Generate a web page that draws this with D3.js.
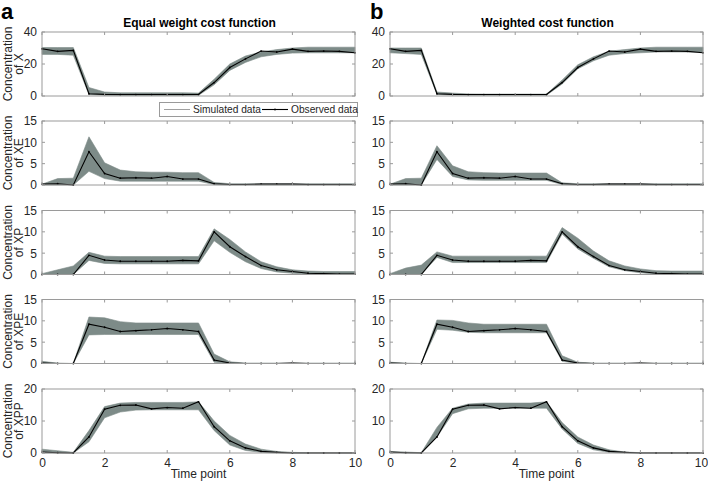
<!DOCTYPE html>
<html><head><meta charset="utf-8">
<script src="https://cdn.jsdelivr.net/npm/d3@7"></script>
<style>body{margin:0;background:#fff}svg{display:block;font-family:"Liberation Sans",Arial,sans-serif}</style>
</head><body>
<svg id="c" width="708" height="483"></svg>
<script>
const time = [0,0.5,1,1.5,2,2.5,3,3.5,4,4.5,5,5.5,6,6.5,7,7.5,8,8.5,9,9.5,10];
const species = ["X","XE","XP","XPE","XPP"];
const yMax = [40,15,15,15,20];
const yTicks = [[0,20,40],[0,5,10,15],[0,5,10,15],[0,5,10,15],[0,10,20]];
const xTicks = [0,2,4,6,8,10];
const panelTitles = ["Equal weight cost function","Weighted cost function"];
const panelLetters = ["a","b"];

const obsX   = [29.5,27.9,28.5,1.4,1.0,0.9,0.9,0.9,0.9,0.9,0.9,8.4,17.8,23.2,28.1,27.5,29.3,27.9,28.1,27.9,27.0];
const obsXE  = [0.2,0.3,0,7.8,2.7,1.6,1.7,1.6,2.0,1.4,1.4,0.3,0.1,0.1,0.2,0.2,0.2,0.1,0.1,0.1,0.1];
const obsXP  = [0,0,0,4.5,3.4,3.1,3.1,3.1,3.1,3.3,3.2,10.0,6.5,4.2,2.1,1.1,0.7,0.3,0.2,0.1,0.1];
const obsXPE = [0.1,0,0,9.2,8.5,7.5,7.7,7.9,8.2,7.9,7.5,0.8,0.1,0,0,0,0.1,0,0,0,0];
const obsXPP = [0.3,0.1,0,5.0,13.7,14.9,15.0,13.8,14.2,14.0,16.0,8.2,3.8,1.6,0.5,0.2,0,0,0,0,0];

const eqLoX   = [26,26,25.5,0.9,0.5,0.3,0.3,0.3,0.3,0.3,0.4,7,16,21,24.5,26,26.8,27,27,27,27];
const eqHiX   = [30.3,30.3,30.3,5.3,2.5,2,2,2,2,2,1.8,10.5,20,25,27.5,29,30,30.5,30.5,30.5,30.5];
const eqLoXE  = [0,0,0,3.2,1.5,0.9,0.9,0.9,0.9,0.9,0.9,0.1,0,0,0,0,0,0,0,0,0];
const eqHiXE  = [0.2,1.5,1.6,11.3,5.2,3.5,3.1,3,3,2.9,2.9,0.6,0.3,0.3,0.3,0.3,0.3,0.3,0.3,0.3,0.3];
const eqLoXP  = [0,0,0,3.3,2.6,2.5,2.5,2.5,2.5,2.5,2.5,7.9,5.2,3,1.4,0.6,0.3,0.1,0,0,0];
const eqHiXP  = [0.2,1.1,2,5.2,4.3,4.2,4.2,4.2,4.2,4.2,4.2,10.7,8.2,5.3,3,1.8,1.1,0.8,0.7,0.7,0.7];
const eqLoXPE = [0,0,0,6.7,6.8,6.8,6.8,6.8,6.8,6.8,6.8,0.3,0,0,0,0,0,0,0,0,0];
const eqHiXPE = [0.5,0.1,0,10.9,10.7,9.8,9.5,9.5,9.5,9.5,9.5,2.2,0.4,0.1,0.1,0.1,0.1,0.1,0.1,0.1,0.1];
const eqLoXPP = [0,0,0,3.5,11,12.8,13.4,13.5,13.5,13.5,13.5,7,2.5,0.8,0.2,0,0,0,0,0,0];
const eqHiXPP = [1.2,0.7,0.2,7,14.5,15.6,15.8,15.8,15.8,15.8,16,10,5.5,2.8,1.2,0.5,0.2,0.1,0.1,0.1,0.1];

const wLoX   = [27,26.5,26,1,0.6,0.5,0.5,0.5,0.5,0.5,0.5,7.5,17,22,25.5,26.5,27,27.5,27.5,27.5,27.5];
const wHiX   = [30,30,30,2.5,1.8,1.3,1.2,1.2,1.2,1.2,1.2,10,19.5,24.5,28,29,30,30.5,30.5,30.5,30.5];
const wLoXE  = [0,0,0,6,2,1.2,1.1,1.1,1.1,1.1,1.1,0.1,0,0,0,0,0,0,0,0,0];
const wHiXE  = [0.2,1.5,1.6,9.2,4.5,3.1,2.9,2.8,2.8,2.8,2.8,0.5,0.3,0.3,0.3,0.3,0.3,0.3,0.3,0.3,0.3];
const wLoXP  = [0,0,0,4,2.8,2.8,2.8,2.8,2.8,2.8,2.8,9.5,6,3.8,1.8,0.9,0.4,0.1,0,0,0];
const wHiXP  = [0.2,1.5,2.2,5.3,4.3,4.3,4.3,4.3,4.3,4.3,4.3,11,8.5,5.5,3.2,2,1.3,0.9,0.8,0.8,0.8];
const wLoXPE = [0,0,0,8,7.8,7.3,7.2,7.2,7.2,7.2,7.2,0.5,0,0,0,0,0,0,0,0,0];
const wHiXPE = [0.3,0.1,0,10.2,10.1,9.5,9.2,9.2,9.2,9.2,9.2,1.8,0.3,0.1,0.1,0.1,0.1,0.1,0.1,0.1,0.1];
const wLoXPP = [0,0,0,5,12.3,13.8,14,14,14,14,14,7.5,3,1,0.2,0,0,0,0,0,0];
const wHiXPP = [0.5,0.3,0.1,8,14,15.3,15.6,15.6,15.6,15.6,16,9.5,5,2.5,1,0.3,0.1,0.1,0.1,0.1,0.1];

const observed = [obsX,obsXE,obsXP,obsXPE,obsXPP];
const bands = [
  {lo:[eqLoX,eqLoXE,eqLoXP,eqLoXPE,eqLoXPP], hi:[eqHiX,eqHiXE,eqHiXP,eqHiXPE,eqHiXPP]},
  {lo:[wLoX,wLoXE,wLoXP,wLoXPE,wLoXPP], hi:[wHiX,wHiXE,wHiXP,wHiXPE,wHiXPP]}
];

const svg = d3.select("#c");
const colLeft = [42, 390], colWidth = 313;
const rowTop = [32,121,210.5,299.5,389], rowH = 64;
const bandColor = "#7d8b88", boxColor = "#9a9a9a", textColor = "#262626";
const fs = 12;

for (let c = 0; c < 2; c++) {
  const x = d3.scaleLinear().domain([0,10]).range([colLeft[c], colLeft[c]+colWidth]);
  for (let r = 0; r < 5; r++) {
    const top = rowTop[r], bot = top + rowH;
    const y = d3.scaleLinear().domain([0,yMax[r]]).range([bot, top]);
    const g = svg.append("g");
    const rows = time.map((t,i) => ({t, lo: bands[c].lo[r][i], hi: bands[c].hi[r][i], o: observed[r][i]}));
    g.append("path").datum(rows)
      .attr("d", d3.area().x(d=>x(d.t)).y0(d=>y(d.lo)).y1(d=>y(d.hi)))
      .attr("fill", bandColor).attr("stroke", bandColor).attr("stroke-width", 0.6);
    g.append("path").datum(rows)
      .attr("d", d3.line().x(d=>x(d.t)).y(d=>y(d.o)))
      .attr("fill","none").attr("stroke","#000").attr("stroke-width",1.1);
    g.selectAll("circle").data(rows).join("circle")
      .attr("cx", d=>x(d.t)).attr("cy", d=>y(d.o)).attr("r", 0.9).attr("fill","#000");
    g.append("rect").attr("x", x(0)).attr("y", top).attr("width", colWidth).attr("height", rowH)
      .attr("fill","none").attr("stroke", boxColor).attr("stroke-width", 1);
    xTicks.forEach(t => {
      g.append("line").attr("x1", x(t)).attr("x2", x(t)).attr("y1", bot).attr("y2", bot-3).attr("stroke", boxColor);
      g.append("line").attr("x1", x(t)).attr("x2", x(t)).attr("y1", top).attr("y2", top+3).attr("stroke", boxColor);
    });
    const yAxis = d3.axisLeft(y).tickValues(yTicks[r]).tickSize(0).tickPadding(5);
    const ya = g.append("g").attr("transform", `translate(${x(0)},0)`).call(yAxis);
    ya.select(".domain").remove();
    ya.selectAll("text").attr("font-size", fs).attr("fill", textColor).attr("font-family","Liberation Sans, Arial, sans-serif");
    yTicks[r].forEach(v => {
      g.append("line").attr("x1", x(0)).attr("x2", x(0)+3).attr("y1", y(v)).attr("y2", y(v)).attr("stroke", boxColor);
      g.append("line").attr("x1", x(10)).attr("x2", x(10)-3).attr("y1", y(v)).attr("y2", y(v)).attr("stroke", boxColor);
    });
    if (c === 0) {
      const cy = (top + bot) / 2;
      const lab = g.append("text").attr("transform", `translate(12,${cy}) rotate(-90)`)
        .attr("text-anchor","middle").attr("font-size", fs).attr("fill", textColor);
      lab.append("tspan").attr("x",0).attr("dy",0).text("Concentration");
      lab.append("tspan").attr("x",0).attr("dy",10.5).text("of " + species[r]);
    }
    if (r === 4) {
      const xAxis = d3.axisBottom(x).tickValues(xTicks).tickSize(0).tickPadding(5).tickFormat(d3.format("d"));
      const xa = g.append("g").attr("transform", `translate(0,${bot})`).call(xAxis);
      xa.select(".domain").remove();
      xa.selectAll("text").attr("font-size", fs).attr("fill", textColor).attr("font-family","Liberation Sans, Arial, sans-serif")
        .attr("dx", d => (c === 1 && d === 10) ? -2 : 0);
      g.append("text").attr("x", x(5)).attr("y", 478).attr("text-anchor","middle")
        .attr("font-size", fs).attr("fill", textColor).text("Time point");
    }
    if (r === 0) {
      g.append("text").attr("x", x(5)+1).attr("y", 27).attr("text-anchor","middle")
        .attr("font-size", 12).attr("font-weight","bold").attr("fill","#000").text(panelTitles[c]);
    }
  }
  svg.append("text").attr("x", c === 0 ? 1 : 370).attr("y", 19).attr("font-size", 22)
    .attr("font-weight","bold").attr("fill","#000").text(panelLetters[c]);
}

const lg = svg.append("g");
lg.append("rect").attr("x",159.5).attr("y",102.5).attr("width",198).attr("height",14)
  .attr("fill","#fff").attr("stroke", boxColor);
lg.append("line").attr("x1",164).attr("x2",190).attr("y1",109.5).attr("y2",109.5).attr("stroke","#a0a0a0").attr("stroke-width",1);
lg.append("text").attr("x",193).attr("y",113).attr("font-size",10.2).attr("fill",textColor).text("Simulated data");
lg.append("line").attr("x1",262).attr("x2",288).attr("y1",109.5).attr("y2",109.5).attr("stroke","#000").attr("stroke-width",1.1);
lg.append("circle").attr("cx",275).attr("cy",109.5).attr("r",0.9).attr("fill","#000");
lg.append("text").attr("x",291).attr("y",113).attr("font-size",10.2).attr("fill",textColor).text("Observed data");
</script>
</body></html>
